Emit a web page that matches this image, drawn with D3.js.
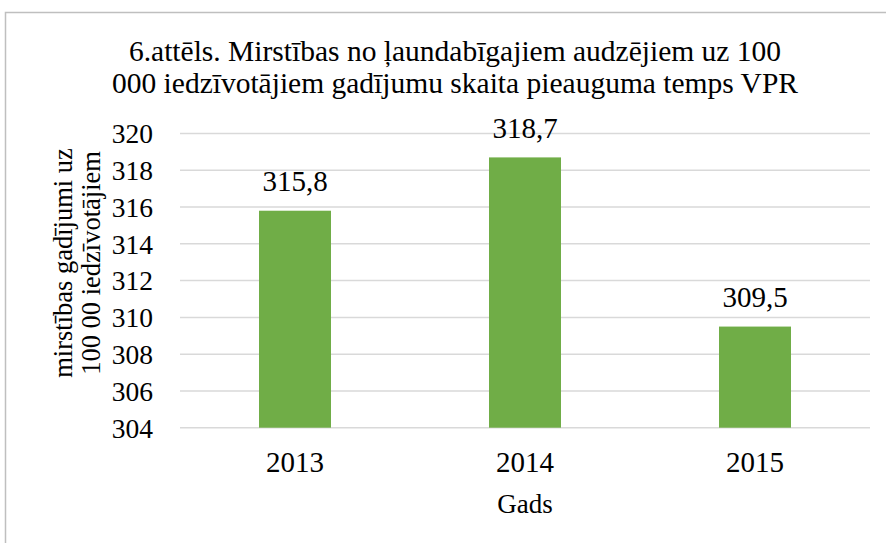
<!DOCTYPE html>
<html>
<head>
<meta charset="utf-8">
<script src="https://cdnjs.cloudflare.com/ajax/libs/d3/7.8.5/d3.min.js"></script>
</head>
<body style="margin:0;background:#fff">
<script>
// chart data
var years = ['2013', '2014', '2015'];
var values = [315.8, 318.7, 309.5];
var yTicks = [304, 306, 308, 310, 312, 314, 316, 318, 320];
var titleLines = ['6.attēls. Mirstības no ļaundabīgajiem audzējiem uz 100',
  '000 iedzīvotājiem gadījumu skaita pieauguma temps VPR'];
var yTitleLines = ['mirstības gadījumi uz', '100 00 iedzīvotājiem'];
var xTitle = 'Gads';

var width = 886, height = 543;
var plot = {left: 180, right: 870, top: 133.5, bottom: 427.7};

var svg = d3.select('body').append('svg')
  .attr('width', width).attr('height', height);

svg.append('rect')
  .attr('x', 5.5).attr('y', 12.5)
  .attr('width', 900).attr('height', 600)
  .attr('fill', '#fff')
  .attr('stroke', '#bfbfbf')
  .attr('stroke-width', 1.5);

var x = d3.scaleBand()
  .domain(years)
  .range([plot.left, plot.right])
  .paddingInner(0.687)
  .paddingOuter(0.3435);

var y = d3.scaleLinear()
  .domain([304, 320])
  .range([plot.bottom, plot.top]);

function serif(sel, size) {
  return sel.attr('font-size', size)
    .style('font-family', '"Liberation Serif"')
    .attr('fill', '#000');
}

// gridlines
svg.append('g').selectAll('line')
  .data(yTicks).enter().append('line')
  .attr('x1', plot.left).attr('x2', plot.right)
  .attr('y1', function (d) { return y(d); })
  .attr('y2', function (d) { return y(d); })
  .attr('stroke', '#d9d9d9')
  .attr('stroke-width', 1.5);

// y axis labels
var yAxis = svg.append('g')
  .attr('transform', 'translate(' + (plot.left - 27) + ',0)')
  .call(d3.axisLeft(y).tickValues(yTicks).tickSize(0).tickPadding(0));
yAxis.select('.domain').remove();
serif(yAxis.selectAll('text'), 27.5).attr('dy', '0.34em');

// bars
svg.append('g').selectAll('rect')
  .data(values).enter().append('rect')
  .attr('x', function (d, i) { return x(years[i]); })
  .attr('y', function (d) { return y(d); })
  .attr('width', x.bandwidth())
  .attr('height', function (d) { return plot.bottom - y(d); })
  .attr('fill', '#70ad47');

// bar labels
serif(svg.append('g').selectAll('text')
  .data(values).enter().append('text'), 29)
  .attr('x', function (d, i) { return x(years[i]) + x.bandwidth() / 2; })
  .attr('y', function (d) { return y(d) - 19.5; })
  .attr('text-anchor', 'middle')
  .text(function (d) { return String(d).replace('.', ','); });

// x axis
var xAxis = svg.append('g')
  .attr('transform', 'translate(0,' + plot.bottom + ')')
  .call(d3.axisBottom(x).tickSize(0).tickPadding(0));
xAxis.select('.domain').remove();
serif(xAxis.selectAll('text'), 29)
  .attr('dy', null)
  .attr('y', 44.5);

// title
serif(svg.append('g').selectAll('text')
  .data(titleLines).enter().append('text'), 29.5)
  .attr('x', 455)
  .attr('y', function (d, i) { return 61 + i * 32; })
  .attr('text-anchor', 'middle')
  .text(function (d) { return d; });

// axis titles
serif(svg.append('text'), 27)
  .attr('x', 525).attr('y', 513)
  .attr('text-anchor', 'middle')
  .text(xTitle);

serif(svg.append('g')
  .attr('transform', 'translate(0,263) rotate(-90)')
  .selectAll('text')
  .data(yTitleLines).enter().append('text'), 26.5)
  .attr('x', 0)
  .attr('y', function (d, i) { return 72 + i * 28; })
  .attr('text-anchor', 'middle')
  .text(function (d) { return d; });
</script>
</body>
</html>
